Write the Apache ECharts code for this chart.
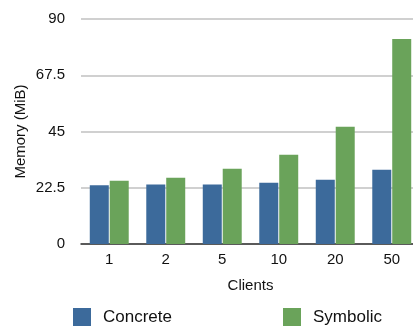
<!DOCTYPE html>
<html>
<head>
<meta charset="utf-8">
<script src="https://cdn.jsdelivr.net/npm/echarts@6/dist/echarts.min.js"></script>
<style>
  html, body { margin: 0; padding: 0; background: #fff; overflow: hidden; }
  /* the plot runs a little past the right edge of the view */
  #chart { width: 420px; height: 326px; }
</style>
</head>
<body>
<div id="chart"></div>
<script>
// Memory use by number of clients
const clients = ['1', '2', '5', '10', '20', '50'];
const concrete = [23.5, 23.8, 23.8, 24.5, 25.7, 29.7];
const symbolic = [25.3, 26.5, 30.1, 35.7, 46.9, 82.0];
const yTicks = [0, 22.5, 45, 67.5, 90];

const FONT = '"Liberation Sans", Arial, Helvetica, sans-serif';
const BLUE = '#3c6a9b';
const GREEN = '#6aa35a';

const chart = echarts.init(document.getElementById('chart'), null, { renderer: 'canvas' });

const legendText = { fontFamily: FONT, fontSize: 17, color: '#111', padding: [0, 0, 0, 7] };

chart.setOption({
  animation: false,
  textStyle: { fontFamily: FONT },
  grid: { left: 81, top: 19, right: 0, bottom: 82, containLabel: false },
  legend: [
    {
      data: [{ name: 'Concrete', icon: 'rect' }],
      left: 73, top: 308, padding: 0,
      itemWidth: 18, itemHeight: 18,
      textStyle: legendText,
      selectedMode: false
    },
    {
      data: [{ name: 'Symbolic', icon: 'rect' }],
      left: 283, top: 308, padding: 0,
      itemWidth: 18, itemHeight: 18,
      textStyle: legendText,
      selectedMode: false
    }
  ],
  xAxis: {
    type: 'category',
    data: clients,
    name: 'Clients',
    nameLocation: 'middle',
    nameGap: 34,
    nameTextStyle: { fontFamily: FONT, fontSize: 15, color: '#111' },
    axisLine: { lineStyle: { color: '#333', width: 1.5 } },
    axisTick: { show: false },
    axisLabel: { margin: 8, fontFamily: FONT, fontSize: 15, color: '#111' }
  },
  yAxis: {
    type: 'value',
    min: yTicks[0],
    max: yTicks[yTicks.length - 1],
    interval: yTicks[1] - yTicks[0],
    name: 'Memory (MiB)',
    nameLocation: 'middle',
    nameGap: 53,
    nameMoveOverlap: false,
    nameTextStyle: { fontFamily: FONT, fontSize: 15, color: '#111' },
    axisLine: { show: false },
    axisTick: { show: false },
    axisLabel: { margin: 16, fontFamily: FONT, fontSize: 15, color: '#111' },
    splitLine: { lineStyle: { color: '#c0c0c0', width: 1.5 } }
  },
  series: [
    {
      name: 'Concrete',
      type: 'bar',
      data: concrete,
      barWidth: 19,
      barGap: '5%',
      itemStyle: { color: BLUE }
    },
    {
      name: 'Symbolic',
      type: 'bar',
      data: symbolic,
      barWidth: 19,
      barGap: '5%',
      itemStyle: { color: GREEN }
    }
  ]
});
</script>
</body>
</html>
